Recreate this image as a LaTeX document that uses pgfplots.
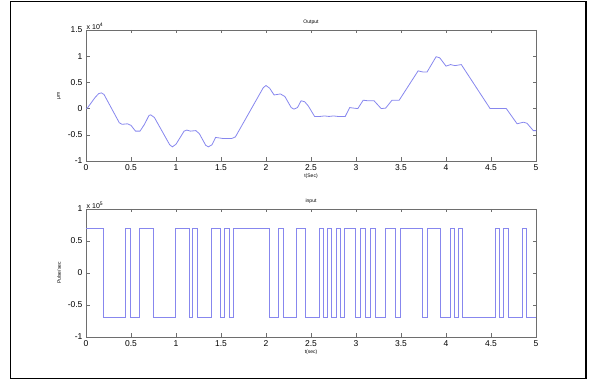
\documentclass[border=0pt]{standalone}
\usepackage{pgfplots}
\pgfplotsset{compat=1.18}
\usepackage{fontspec}
\setmainfont{Liberation Sans}
\definecolor{axgray}{RGB}{110,110,110}
\definecolor{linecol}{RGB}{135,135,238}
\begin{document}
\begin{tikzpicture}
\useasboundingbox (0pt,0pt) rectangle (592pt,380pt);
\draw[line width=1.8pt] (10.5pt,1.5pt) rectangle (586pt,378.5pt);
\pgfplotsset{
  mystyle/.style={
    scale only axis, width=450pt, anchor=south west,
    clip mode=individual,
    xmin=0, xmax=5, xtick={0,0.5,1,1.5,2,2.5,3,3.5,4,4.5,5},
    xticklabels={0,0.5,1,1.5,2,2.5,3,3.5,4,4.5,5},
    scaled ticks=false,
    axis line style={draw=axgray, line width=0.6pt},
    every tick/.style={draw=axgray, line width=0.5pt},
    tick align=inside, major tick length=3.5pt,
    tick label style={font=\fontsize{8.5}{9}\selectfont},
    every axis title/.style={at={(rel axis cs:0.5,1)}, anchor=south, yshift=2pt, font=\fontsize{5}{6}\selectfont},
    every axis x label/.style={at={(rel axis cs:0.5,0)}, anchor=north, yshift=-9.5pt, font=\fontsize{5}{6}\selectfont},
    every axis y label/.style={at={([xshift=-27pt]rel axis cs:0,0.5)}, rotate=90, anchor=center, font=\fontsize{5}{6}\selectfont},
  }
}
\begin{axis}[mystyle, at={(86pt,219pt)}, height=131pt,
  ymin=-10000, ymax=15000, ytick={-10000,-5000,0,5000,10000,15000},
  yticklabels={-1,-0.5,0,0.5,1,1.5},
  title={Output}, xlabel={t(Sec)}, ylabel={μm}]
\addplot[linecol, line width=0.8pt] coordinates {
(0.000,0) (0.015,100) (0.10,2100) (0.14,2850) (0.17,3000) (0.20,2700)
(0.37,-2700) (0.40,-3000) (0.46,-2900) (0.50,-3200) (0.55,-4300) (0.60,-4300)
(0.65,-3000) (0.70,-1300) (0.72,-1200) (0.76,-1700) (0.93,-6900) (0.96,-7300)
(1.00,-6800) (1.09,-4300) (1.12,-4100) (1.16,-4300) (1.22,-4200) (1.26,-4800)
(1.33,-7000) (1.36,-7300) (1.40,-6900) (1.44,-5500) (1.48,-5600) (1.52,-5700)
(1.62,-5700) (1.66,-5400) (1.97,4000) (2.00,4400) (2.04,3900) (2.09,2600)
(2.16,2800) (2.21,2300) (2.28,200) (2.31,-100) (2.35,200) (2.39,1500)
(2.43,1300) (2.47,500) (2.54,-1500) (2.60,-1500) (2.65,-1400) (2.70,-1500)
(2.75,-1400) (2.80,-1500) (2.88,-1500) (2.93,200) (2.97,100) (3.02,0)
(3.08,1600) (3.13,1500) (3.20,1500) (3.28,0) (3.33,100) (3.40,1600)
(3.48,1600) (3.69,7200) (3.74,7000) (3.79,7000) (3.89,9900) (3.93,9700)
(4.00,8100) (4.05,8400) (4.10,8200) (4.17,8400) (4.49,0) (4.55,0)
(4.62,0) (4.67,0) (4.79,-2900) (4.86,-2600) (4.90,-2800) (4.97,-4200) (5.00,-4200)
};
\node[anchor=south west, inner sep=0.5pt, font=\fontsize{7}{8}\selectfont] at (rel axis cs:0,1) {x 10\textsuperscript{4}};
\end{axis}
\begin{axis}[mystyle, at={(86pt,43pt)}, height=128pt,
  ymin=-100000, ymax=100000, ytick={-100000,-50000,0,50000,100000},
  yticklabels={-1,-0.5,0,0.5,1},
  title={input}, xlabel={t(sec)}, ylabel={Pulse/sec}]
\addplot[linecol, line width=0.7pt, const plot] coordinates {
(0,70000) (0.19,-70000) (0.437,70000) (0.489,-70000) (0.593,70000) (0.748,-70000)
(0.989,70000) (1.144,-70000) (1.185,70000) (1.241,-70000) (1.396,70000) (1.496,-70000)
(1.537,70000) (1.593,-70000) (1.637,70000) (2.037,-70000) (2.142,70000) (2.193,-70000)
(2.341,70000) (2.437,-70000) (2.596,70000) (2.641,-70000) (2.685,70000) (2.730,-70000)
(2.780,70000) (2.830,-70000) (2.870,70000) (2.990,-70000) (3.050,70000) (3.100,-70000)
(3.160,70000) (3.210,-70000) (3.330,70000) (3.440,-70000) (3.490,70000) (3.740,-70000)
(3.790,70000) (3.940,-70000) (4.044,70000) (4.089,-70000) (4.141,70000) (4.185,-70000)
(4.544,70000) (4.589,-70000) (4.641,70000) (4.692,-70000) (4.848,70000) (4.896,-70000)
(5,-70000)
};
\node[anchor=south west, inner sep=0.5pt, font=\fontsize{7}{8}\selectfont] at (rel axis cs:0,1) {x 10\textsuperscript{5}};
\end{axis}
\end{tikzpicture}
\end{document}
